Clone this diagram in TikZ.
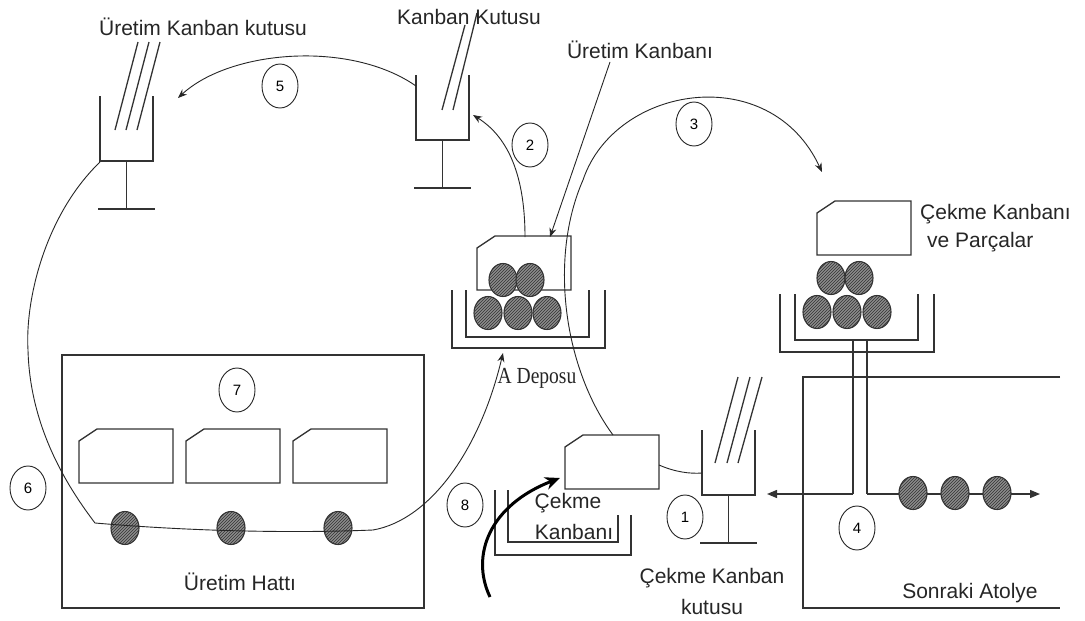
\documentclass[tikz,border=0pt]{standalone}
\usepackage{fontspec}
\setmainfont{Liberation Sans}
\newfontfamily\serifface{Liberation Serif}
\usetikzlibrary{arrows.meta,patterns,shapes.geometric}

\begin{document}
\begin{tikzpicture}[x=1pt,y=-1pt,
  outline/.style={draw=black!80,line width=1.3pt},
  flow/.style={draw=black!85,line width=0.9pt},
  tip/.style={-{Stealth[length=9pt,width=7pt]}},
  heavy/.style={draw=black,line width=3pt,-{Stealth[length=15pt,width=13pt]}},
  num/.style={draw=black!85,line width=0.9pt,ellipse,minimum width=36pt,
    minimum height=44pt,inner sep=0pt,font=\fontsize{15}{17}\selectfont},
  txt/.style={font=\fontsize{21}{24}\selectfont,text=black!85,inner sep=0pt},
  % kanban post: open box on a stand
  kutu/.pic={
    \draw[outline] (0,0) -- (0,65) -- (53,65) -- (53,0);
    \draw[outline] (26.5,65) -- (26.5,113);
    \draw[outline] (-2,113) -- (55,113);
  },
  % kanban card with a clipped corner
  card/.pic={
    \draw[outline,fill=white] (0,12) -- (18,0) -- (94,0) -- (94,54) -- (0,54) -- cycle;
  },
  % hatched part
  ball/.pic={
    \fill[black!45] (0,0) ellipse [x radius=14,y radius=16.5];
    \fill[pattern=north east lines,pattern color=black!80] (0,0) ellipse [x radius=14,y radius=16.5];
    \draw[draw=black!80,line width=1.1pt] (0,0) ellipse [x radius=14,y radius=16.5];
  }]
\useasboundingbox (0,0) rectangle (1085,621);
\fill[white] (0,0) rectangle (1085,621);

% ---------- production kanban post (top left)
\pic at (100,96) {kutu};
\draw[outline] (138,42) -- (115,130) (149,42) -- (126,130) (160,42) -- (137,130);
\coordinate (pkL) at (100,162);
\coordinate (pkIn) at (178,98);
\node[txt] (tPk) at (203,27) {Üretim Kanban kutusu};

% ---------- kanban box (top middle)
\pic at (416,75) {kutu};
\draw[outline] (465,25) -- (442,110) (477,13) -- (453,110);
\coordinate (kbW) at (416,86);
\coordinate (kbE) at (473,115);
\node[txt] (tKb) at (469,17) {Kanban Kutusu};

% ---------- store A
\draw[outline] (452,290) -- (452,348) -- (605,348) -- (605,290);
\draw[outline] (466,290) -- (466,337) -- (589,337) -- (589,290);
\pic at (477,236) {card};
\pic at (503,280) {ball};
\pic at (530,280) {ball};
\pic at (488,313) {ball};
\pic at (518,313) {ball};
\pic at (547,313) {ball};
\coordinate (dcTop) at (525,237);
\coordinate (dcArr) at (550,237);
\coordinate (depoIn) at (503,353);
\node[font=\serifface\fontsize{23}{26}\selectfont,text=black!85,inner sep=0pt,xscale=0.85]
  (tDepo) at (537,378) {A Deposu};
\node[txt] (tUk) at (640,50) {Üretim Kanbanı};
\coordinate (ukp) at (610,62);

% ---------- withdrawal kanban and parts (right)
\pic at (817,201) {card};
\draw[outline] (780,294) -- (780,352) -- (934,352) -- (934,294);
\draw[outline] (795,294) -- (795,340) -- (918,340) -- (918,294);
\pic at (831,278) {ball};
\pic at (859,278) {ball};
\pic at (817,312) {ball};
\pic at (847,312) {ball};
\pic at (877,312) {ball};
\coordinate (ckArr) at (822,172);
\node[txt,anchor=west] (tCk1) at (920,214) {Çekme Kanbanı};
\node[txt,anchor=west] (tCk2) at (927,242) {ve Parçalar};

% ---------- next workshop
\draw[outline] (1060,377) -- (803,377) -- (803,608) -- (1060,608);
\node[txt] (tSa) at (970,593) {Sonraki Atolye};

% ---------- withdrawal kanban post (bottom)
\pic at (702,430) {kutu};
\draw[outline] (738,377) -- (715,463) (750,377) -- (727,463) (762,377) -- (738,463);
\coordinate (cbW) at (702,473);
\coordinate (cbE) at (767,494);
\node[txt] (tCb1) at (712,578) {Çekme Kanban};
\node[txt] (tCb2) at (712,607) {kutusu};

% transfer lines out of the right store
\coordinate (pL) at (853,494);
\coordinate (pR) at (867,494);
\coordinate (pEnd) at (1040,494);
\draw[outline] (853,340) -- (pL);
\draw[outline] (867,340) -- (pR);
\draw[outline,-{Triangle[length=10pt,width=8pt]}] (pL) -- (cbE);
\draw[outline,-{Triangle[length=10pt,width=8pt]}] (pR) -- (pEnd);
\pic at (913,493) {ball};
\pic at (955,493) {ball};
\pic at (997,493) {ball};

% ---------- withdrawal kanban tray (bottom middle)
\draw[outline] (495,490) -- (495,555) -- (631,555) -- (631,515);
\draw[outline] (508,490) -- (508,542) -- (618,542) -- (618,515);
\pic at (565,435) {card};
\coordinate (ccTop) at (613,435);
\coordinate (ccE) at (659,465);
\coordinate (ccIn) at (560,478);
\coordinate (hvStart) at (490,597);
\node[txt] (tCc1) at (568,503) {Çekme};
\node[txt] (tCc2) at (574,532) {Kanbanı};

% ---------- production line
\draw[outline] (62,355) rectangle (424,608);
\pic at (79,429) {card};
\pic at (186,429) {card};
\pic at (293,429) {card};
\pic at (125,528) {ball};
\pic at (231,528) {ball};
\pic at (338,528) {ball};
\node[txt] (tUh) at (240,582) {Üretim Hattı};
\coordinate (uhA) at (95,523);
\coordinate (uhB) at (373,530);
\coordinate (lw) at (28,350);

% ---------- kanban flows
\draw[flow,tip] (kbW) .. controls (350,40) and (230,50) .. (pkIn);
\draw[flow,tip] (dcTop) .. controls (525,170) and (505,135) .. (kbE);
\draw[flow,tip] (ukp) -- (dcArr);
\draw[flow,tip] (ccTop) .. controls (565,370) and (548,260) .. (583,180)
  .. controls (615,85) and (770,60) .. (ckArr);
\draw[flow] (ccE) .. controls (675,472) and (690,474) .. (cbW);
\draw[flow] (pkL) .. controls (45,215) and (25,300) .. (lw)
  .. controls (30,430) and (70,490) .. (uhA)
  .. controls (200,532) and (300,533) .. (uhB);
\draw[flow,tip] (uhB) .. controls (430,520) and (480,450) .. (depoIn);
\draw[heavy] (hvStart) .. controls (470,555) and (490,505) .. (ccIn);

% ---------- step numbers
\node[num,fill=white] (n5) at (280,86) {5};
\node[num,fill=white] (n2) at (530,145) {2};
\node[num,fill=white] (n3) at (694,124) {3};
\node[num,fill=white] (n7) at (237,390) {7};
\node[num,fill=white] (n6) at (28,488) {6};
\node[num,fill=white] (n8) at (465,505) {8};
\node[num,fill=white] (n1) at (685,517) {1};
\node[num,fill=white] (n4) at (857,528) {4};
\end{tikzpicture}
\end{document}
